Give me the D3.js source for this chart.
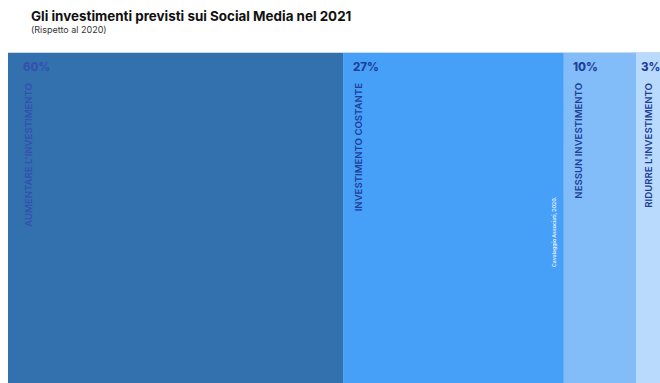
<!DOCTYPE html>
<html>
<head>
<meta charset="utf-8">
<script src="https://cdn.jsdelivr.net/npm/d3@7"></script>
<style>
  body { margin: 0; background: #fff; }
  text { font-family: Inter, "Open Sans", sans-serif; }
</style>
</head>
<body>
<div id="chart"></div>
<script>
// dati
var categorie = ["AUMENTARE L'INVESTIMENTO", "INVESTIMENTO COSTANTE", "NESSUN INVESTIMENTO", "RIDURRE L'INVESTIMENTO"];
var valori = [60, 27, 10, 3];
var colori = ["#3271ae", "#47a0f8", "#82bcf9", "#b9dafc"];
var coloriTesto = ["#3450b0", "#1f3f98", "#1f3f98", "#1f3f98"];

var W = 660, H = 383;
var svg = d3.select("#chart").append("svg")
    .attr("width", W)
    .attr("height", H);

// titolo
svg.append("text")
    .attr("x", 31).attr("y", 21)
    .attr("font-size", 13.4).attr("font-weight", 700)
    .attr("fill", "#111")
    .text("Gli investimenti previsti sui Social Media nel 2021");
svg.append("text")
    .attr("x", 31).attr("y", 33)
    .attr("font-size", 9)
    .attr("fill", "#333")
    .text("(Rispetto al 2020)");

// scala cumulativa (le larghezze del grafico originale non sono proporzionali)
var cumul = [0];
valori.forEach(function(v, i) { cumul.push(cumul[i] + v); });
var x = d3.scaleLinear()
    .domain(cumul)
    .range([8, 343, 563, 635, 668]);
var yTop = 53;

var data = categorie.map(function(c, i) {
    return {nome: c, valore: valori[i], x0: cumul[i], x1: cumul[i + 1], colore: colori[i], testo: coloriTesto[i], i: i};
});
var offPct = [15, 10, 10, 6];
var offLab = [24, 19, 19, 17];

// linea chiara sopra le barre
svg.append("rect")
    .attr("x", x(0)).attr("y", yTop - 1)
    .attr("width", x(100) - x(0)).attr("height", 1)
    .attr("fill", "#c9d9ec");

var g = svg.selectAll(".barra")
    .data(data)
    .enter().append("g")
    .attr("class", "barra");

g.append("rect")
    .attr("x", function(d) { return x(d.x0); })
    .attr("y", yTop)
    .attr("width", function(d) { return x(d.x1) - x(d.x0); })
    .attr("height", H - yTop)
    .attr("fill", function(d) { return d.colore; });

// separatore sottile
g.filter(function(d) { return d.i > 0; }).append("rect")
    .attr("x", function(d) { return x(d.x0); })
    .attr("y", yTop)
    .attr("width", 1)
    .attr("height", H - yTop)
    .attr("fill", "#5aa8f2")
    .attr("opacity", 0.6);

// percentuali
g.append("text")
    .attr("x", function(d) { return x(d.x0) + offPct[d.i]; })
    .attr("y", 71)
    .attr("font-size", 11.5).attr("font-weight", 800)
    .attr("fill", function(d) { return d.testo; })
    .text(function(d) { return d.valore + "%"; });

// etichette verticali
g.append("text")
    .attr("transform", function(d) {
        return "translate(" + (x(d.x0) + offLab[d.i]) + ",83) rotate(-90)";
    })
    .attr("text-anchor", "end")
    .attr("font-size", 9.6).attr("font-weight", 600)
    .attr("fill", function(d) { return d.testo; })
    .text(function(d) { return d.nome; });

// firma
svg.append("text")
    .attr("transform", "translate(556,267) rotate(-90)")
    .attr("font-size", 5.2).attr("font-weight", 600)
    .attr("fill", "#e6f1fe")
    .text("Cavalaggio Associati, 2020.");
</script>
</body>
</html>
